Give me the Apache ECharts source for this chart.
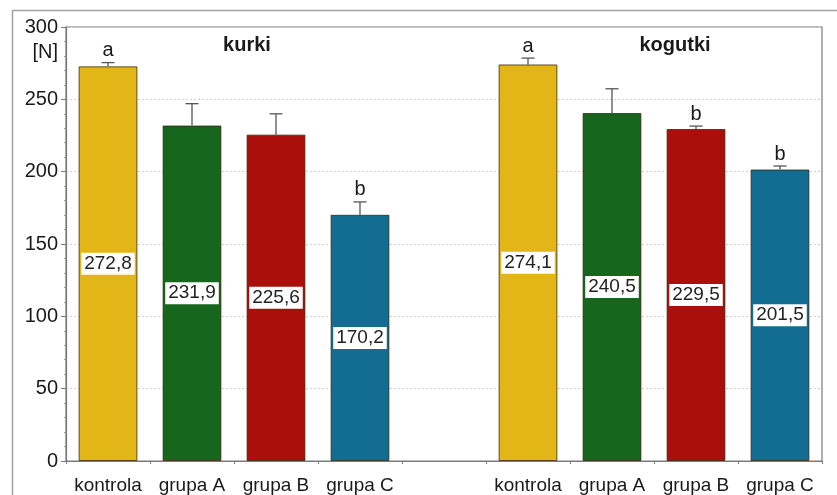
<!DOCTYPE html>
<html>
<head>
<meta charset="utf-8">
<script src="https://cdn.jsdelivr.net/npm/echarts@6/dist/echarts.min.js"></script>
<style>
  html, body { margin: 0; padding: 0; background: #fff; }
  #chart { width: 837px; height: 495px; }
</style>
</head>
<body>
<div id="chart"></div>
<script>
// Groups on the x axis; an empty slot separates hens (kurki) from cockerels (kogutki)
const groups = ['kontrola', 'grupa A', 'grupa B', 'grupa C'];
const categories = [...groups, '', ...groups];

// Mean breaking force [N]
const kurkiMeans = [272.8, 231.9, 225.6, 170.2];
const kogutkiMeans = [274.1, 240.5, 229.5, 201.5];

// Standard deviations (upper error bars)
const kurkiSD = [2.6, 15.1, 14.4, 8.9];
const kogutkiSD = [4.4, 16.8, 2.0, 2.4];

// Significance letters above bars
const kurkiLetters = ['a', '', '', 'b'];
const kogutkiLetters = ['a', '', 'b', 'b'];

// Y axis ticks
const yMin = 0, yMax = 300, yStep = 50;

const groupColors = ['#E2B616', '#16661E', '#AB0F0C', '#136D93'];

const means = [...kurkiMeans, null, ...kogutkiMeans];
const sds = [...kurkiSD, null, ...kogutkiSD];
const letters = [...kurkiLetters, '', ...kogutkiLetters];
const colors = [...groupColors, null, ...groupColors];

const barData = means.map((v, i) => v === null ? null : ({
  value: v,
  itemStyle: { color: colors[i] }
}));

const errData = [];
means.forEach((v, i) => {
  if (v !== null) errData.push([i, v, v + sds[i], letters[i]]);
});

const FONT = 'Liberation Sans, Arial, sans-serif';

const chart = echarts.init(document.getElementById('chart'));
chart.setOption({
  animation: false,
  backgroundColor: '#ffffff',
  grid: {
    left: 66, right: 15, top: 27, bottom: 32,
    show: true, borderColor: '#7a7a7a', borderWidth: 1.2, backgroundColor: 'transparent'
  },
  title: [
    { text: 'kurki', left: 242, top: 30, textAlign: 'center',
      textStyle: { fontFamily: FONT, fontSize: 20, fontWeight: 'bold', color: '#1a1a1a' } },
    { text: 'kogutki', left: 670, top: 30, textAlign: 'center',
      textStyle: { fontFamily: FONT, fontSize: 20, fontWeight: 'bold', color: '#1a1a1a' } }
  ],
  graphic: [
    { type: 'rect', shape: { x: 12.5, y: 10.5, width: 900, height: 600 },
      style: { fill: 'none', stroke: '#a0a0a0', lineWidth: 1.5 }, silent: true },
    { type: 'text', right: 837 - 58, top: 42,
      style: { text: '[N]', font: '20px ' + FONT, fill: '#1a1a1a' } }
  ],
  xAxis: {
    type: 'category',
    data: categories,
    axisLine: { lineStyle: { color: '#7a7a7a', width: 1.2 } },
    axisTick: { show: true, length: 3, lineStyle: { color: '#7a7a7a' } },
    axisLabel: { interval: 0, margin: 15, color: '#1a1a1a', fontFamily: FONT, fontSize: 19 }
  },
  yAxis: {
    type: 'value',
    min: yMin, max: yMax, interval: yStep,
    axisLine: { show: true, lineStyle: { color: '#7a7a7a', width: 1.2 } },
    axisTick: { show: true, length: 5, lineStyle: { color: '#7a7a7a' } },
    minorTick: { show: true, splitNumber: 5, length: 2, lineStyle: { color: '#9a9a9a' } },
    axisLabel: { margin: 8, color: '#1a1a1a', fontFamily: FONT, fontSize: 20 },
    splitLine: { show: true, lineStyle: { color: '#cfcfcf', type: [2, 2], width: 1 } }
  },
  series: [
    {
      type: 'bar',
      data: barData,
      barWidth: '70%',
      itemStyle: { borderColor: 'rgba(50,35,10,0.75)', borderWidth: 1 },
      label: {
        show: true,
        position: 'inside',
        formatter: p => p.value.toFixed(1).replace('.', ','),
        fontFamily: FONT, fontSize: 19, color: '#222',
        backgroundColor: '#ffffff', padding: [2, 3, 1, 3]
      },
      z: 2
    },
    {
      type: 'custom',
      data: errData,
      z: 3,
      renderItem: (params, api) => {
        const x = api.value(0);
        const top = api.coord([x, api.value(2)]);
        const base = api.coord([x, api.value(1)]);
        const half = 6.5;
        const children = [
          { type: 'line', shape: { x1: top[0], y1: base[1], x2: top[0], y2: top[1] },
            style: { stroke: '#555', lineWidth: 1.3 } },
          { type: 'line', shape: { x1: top[0] - half, y1: top[1], x2: top[0] + half, y2: top[1] },
            style: { stroke: '#555', lineWidth: 1.3 } }
        ];
        const letter = errData[params.dataIndex][3];
        if (letter) {
          children.push({
            type: 'text',
            style: { text: letter, x: top[0], y: top[1] - 2, align: 'center', verticalAlign: 'bottom',
                     font: '20px ' + FONT, fill: '#1a1a1a' }
          });
        }
        return { type: 'group', children };
      }
    }
  ]
});
</script>
</body>
</html>
